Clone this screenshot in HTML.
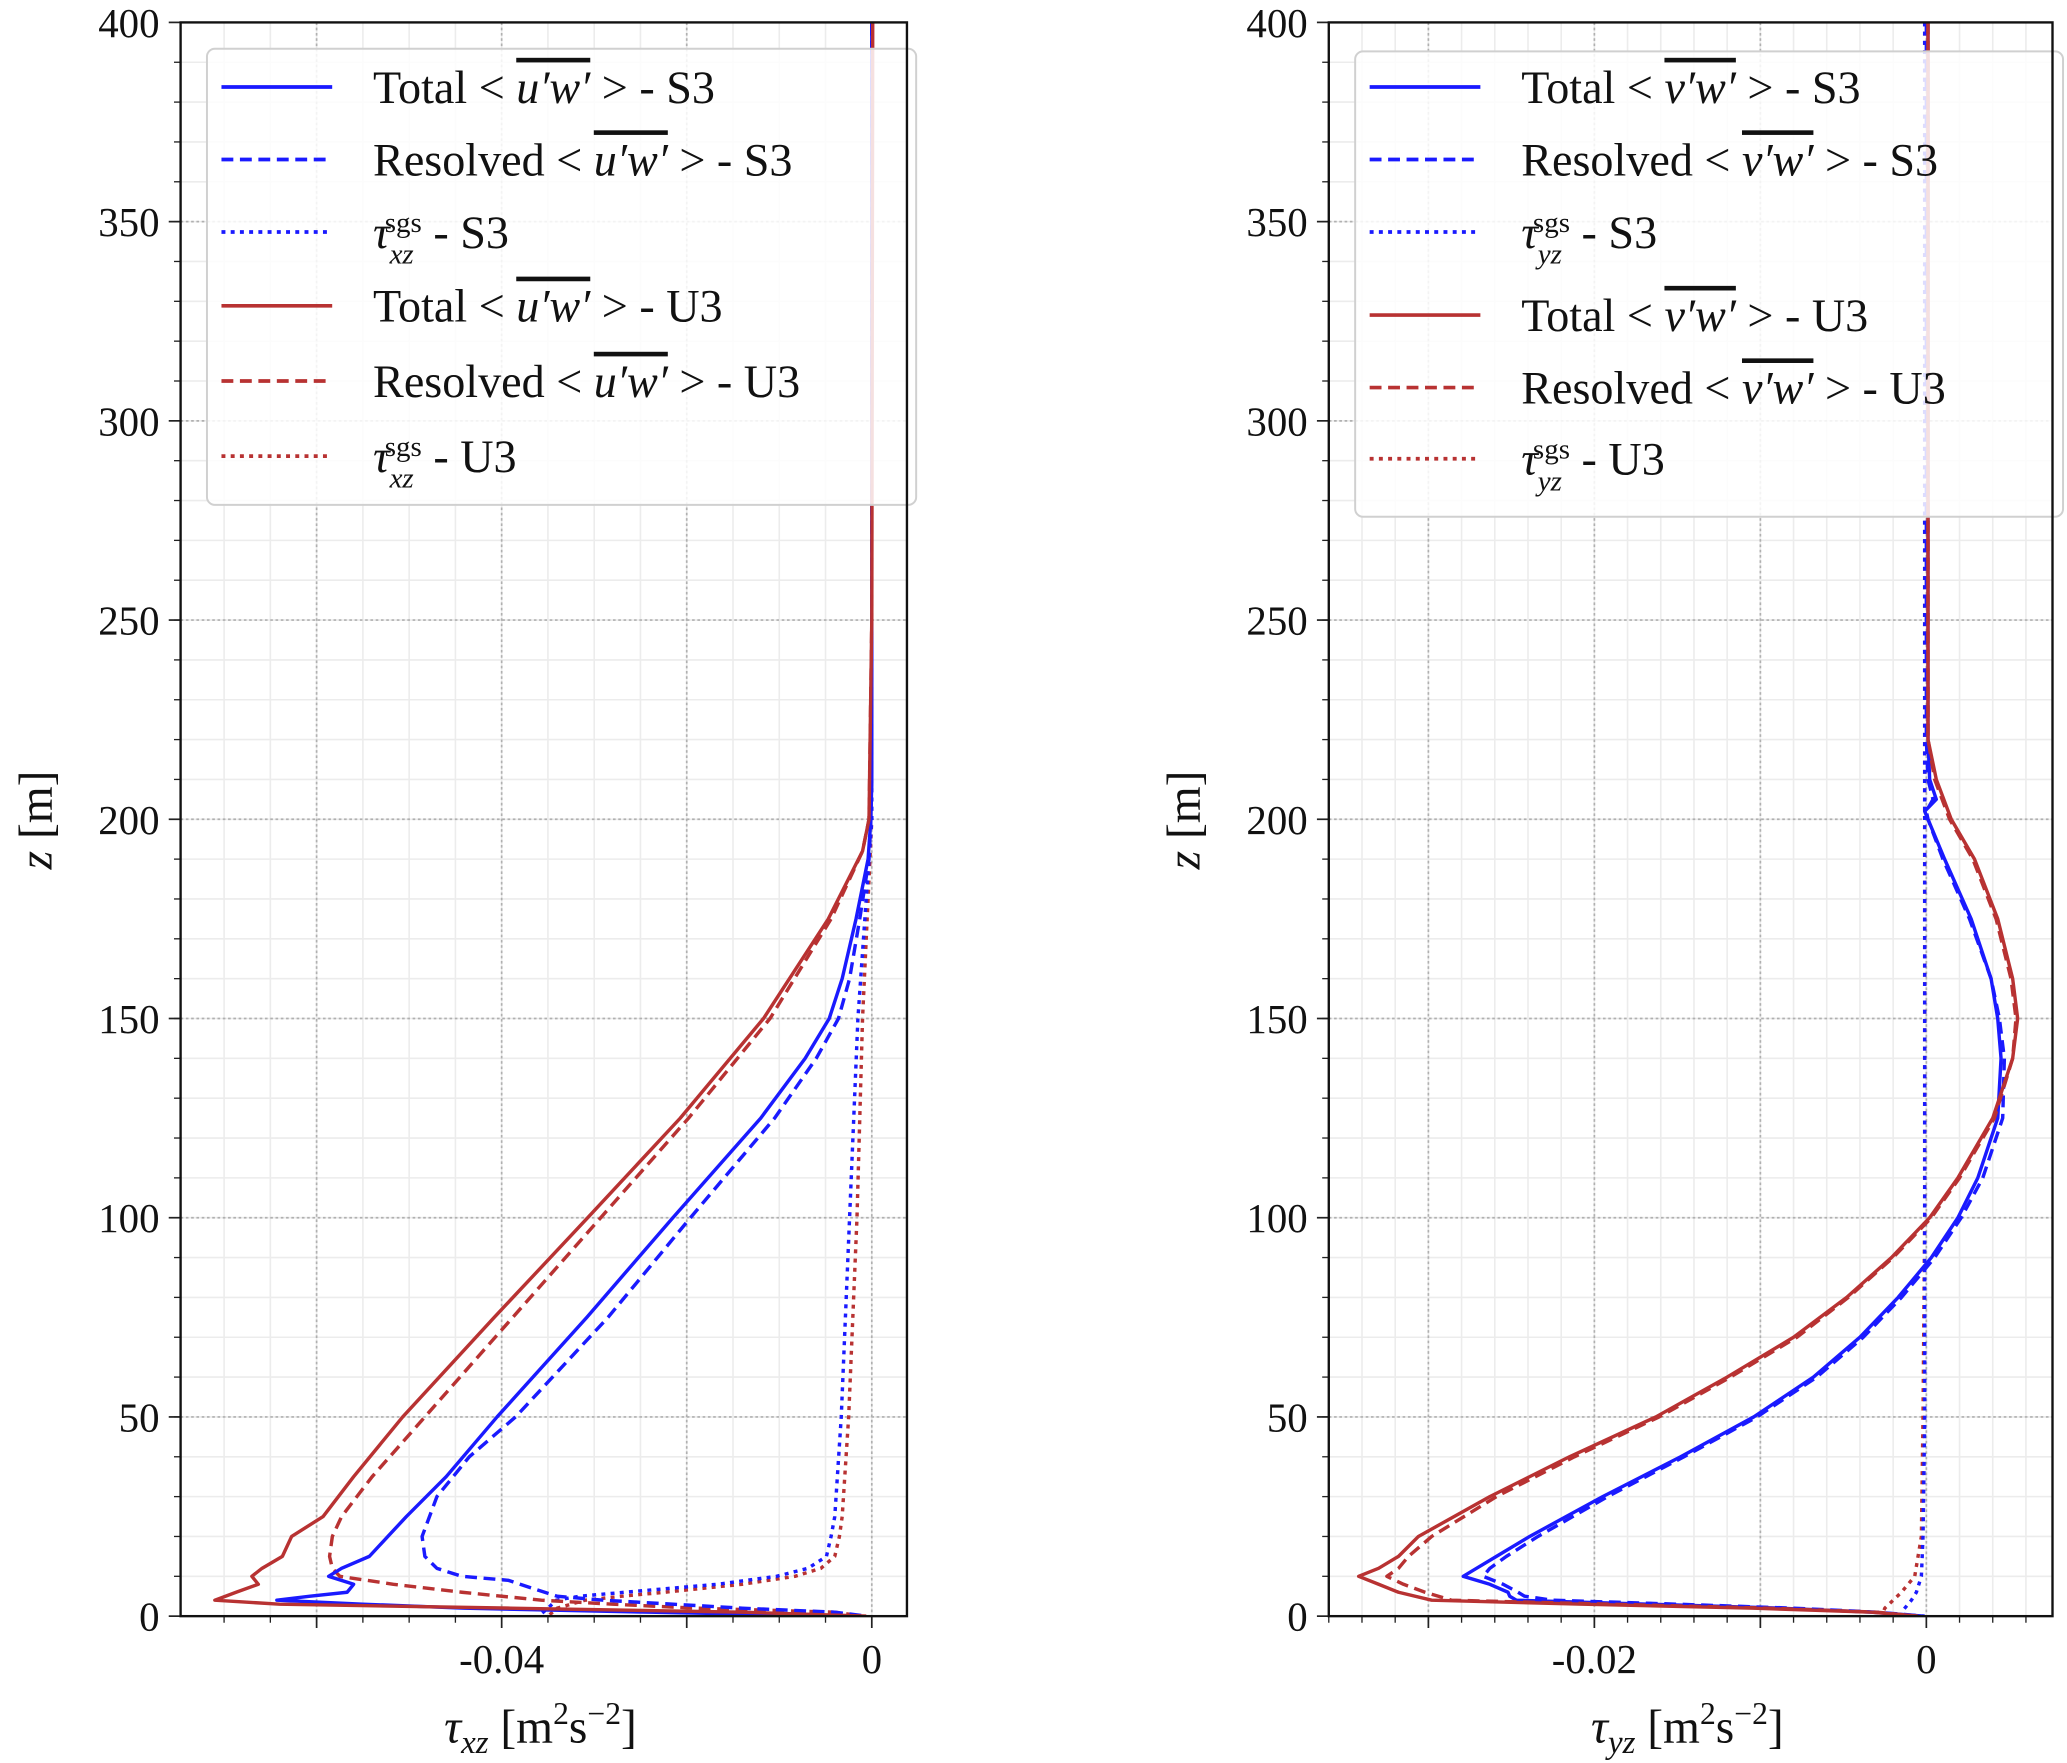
<!DOCTYPE html>
<html><head><meta charset="utf-8"><style>
html,body{margin:0;padding:0;background:#fff}
svg{display:block}
text{font-family:"Liberation Serif",serif;fill:#111}
</style></head><body>
<svg id="fig" width="2067" height="1763" viewBox="0 0 1568 1337.4" preserveAspectRatio="none" xmlns="http://www.w3.org/2000/svg"></svg>
<script>
// ---------- LEFT PANEL DATA (x in 1e-3 m2 s-2) ----------
const zL_s3Total = [400,210,200,190,175,160,150,140,125,100,75,50,35,25,20,15,12,10,8,6,5,4,3,2,1,0];
const xL_s3Total = [0,0,-0.1,-0.4,-1.7,-3.2,-4.6,-7.2,-12,-21.5,-30.8,-40.5,-46,-50.3,-52.3,-54.3,-57.3,-58.7,-56,-56.7,-60.7,-64.3,-55,-44,-24,-2];
const zL_s3Res = [400,210,200,190,175,160,150,140,125,100,75,50,40,30,20,15,12,10,9,7,5,4,2,1,0];
const xL_s3Res = [0,0,-0.1,-0.3,-1.3,-2.4,-3.6,-6,-10.5,-19.6,-28.5,-38.5,-43.5,-47,-48.6,-48.3,-47,-44.3,-39.3,-36.7,-34,-29,-14,-4,-0.5];
const zL_sgs = [400,200,150,100,50,25,20,15,12,10,8,6,5,4,2,0];
const xL_s3Sgs = [0,0,-1.5,-2.4,-3.3,-4.0,-4.4,-4.9,-6.9,-10.3,-16.7,-26.7,-31.6,-34.1,-35,-36];
const xL_u3Sgs = [0,0,-1,-1.6,-2.5,-3.2,-3.5,-4.0,-5.5,-8.3,-14,-22.4,-27,-31,-34,-35];
const zL_u3 = [400,250,200,192,175,150,125,100,75,50,35,25,20,15,12,10,8,6,4,3,2,1,0];
const xL_u3Total = [0.1,0,-0.3,-1,-4.7,-11.7,-20.7,-30.7,-40.8,-50.7,-56,-59.3,-62.7,-63.7,-65.9,-67,-66.3,-68.7,-71,-64,-39,-14,-0.6];
const xL_u3Res = [0,0,-0.3,-1,-4.4,-11,-19.8,-29.3,-38.8,-48.3,-54,-57.3,-58.3,-58.6,-58.3,-57.5,-51.7,-44.3,-35.7,-28,-19,-4,-1];
const xTicksL = [-0.04, 0];
const xTickLabelsL = ["-0.04", "0"];
// ---------- RIGHT PANEL DATA ----------
const zR_s3 = [400,220,210,205,202,200,190,175,160,150,140,125,110,100,90,80,70,60,50,40,30,20,15,12,10,8,6,5,4,3,2,1,0];
const xR_s3Total = [0.1,0.1,0.2,0.6,-0.1,0.1,1.1,2.7,3.9,4.3,4.5,4.3,3.1,1.9,0.3,-1.7,-4.0,-6.8,-10.4,-14.8,-19.5,-23.9,-25.9,-27.1,-27.9,-26.3,-25.2,-25.1,-24.7,-16.7,-8.8,-3.3,-0.1];
const xR_s3Res = [0,0,0.1,0.4,0,0.1,1.0,2.6,3.9,4.4,4.7,4.6,3.4,2.1,0.5,-1.5,-3.8,-6.6,-10.2,-14.6,-19.2,-23.4,-25.3,-26.3,-26.7,-25.5,-24.6,-24.2,-22.5,-15,-8,-3,-0.1];
const zR_u3 = [400,220,210,200,190,175,160,150,140,125,110,100,90,80,70,60,50,40,30,20,15,12,10,8,6,4,3,2,1,0];
const xR_u3Total = [0.1,0.1,0.6,1.5,2.9,4.3,5.2,5.5,5.2,4.0,1.9,0.2,-2.1,-4.8,-8.0,-12.0,-16.3,-21.5,-26.3,-30.6,-31.8,-33.0,-34.2,-33.0,-31.8,-29.8,-20.7,-10.4,-3.3,-0.5];
const xR_u3Res = [0.1,0.1,0.5,1.4,2.8,4.2,5.1,5.4,5.2,4.1,2.0,0.3,-2.0,-4.7,-7.8,-11.8,-16.1,-21.2,-25.9,-29.8,-31.2,-31.8,-32.5,-31.5,-30.2,-28.6,-19,-9.5,-3,-0.5];
const zR_sgs = [400,100,50,20,10,6,4,2,1,0];
const xR_s3Sgs = [-0.1,-0.1,-0.1,-0.2,-0.3,-0.6,-0.9,-1.3,-1.5,-1.5];
const xR_u3Sgs = [-0.1,-0.1,-0.2,-0.3,-0.7,-1.5,-2.0,-2.5,-2.6,-2.6];
const xTicksR = [-0.02, 0];
const xTickLabelsR = ["-0.02", "0"];
const yTicks = [0,50,100,150,200,250,300,350,400];

const NS = "http://www.w3.org/2000/svg";
const svg = document.getElementById('fig');
const BLUE = "#1a1aff", RED = "#b83232";
function el(tag, attrs, parent) {
  const e = document.createElementNS(NS, tag);
  for (const k in attrs) e.setAttribute(k, attrs[k]);
  (parent || svg).appendChild(e);
  return e;
}

function panel(cfg) {
  const g = el('g', {});
  
  
  const X = v => cfg.x0 + (v - cfg.xmin) / (cfg.xmax - cfg.xmin) * (cfg.x1 - cfg.x0);
  const Y = v => cfg.y1 - v / 400 * (cfg.y1 - cfg.y0);
  for (let v = Math.ceil(cfg.xmin / cfg.minor) * cfg.minor; v <= cfg.xmax; v += cfg.minor) {
    const l = el('line', {x1: X(v), x2: X(v), y1: cfg.y0, y2: cfg.y1, stroke: "#ececec", "stroke-width": 1.2}, g);
    
    
    const t = el('line', {x1: X(v), x2: X(v), y1: cfg.y1, y2: cfg.y1 + 5, stroke: "#222", "stroke-width": 1}, g);
    
    
  }
  for (let v = 10; v < 400; v += 10) {
    const l = el('line', {x1: cfg.x0, x2: cfg.x1, y1: Y(v), y2: Y(v), stroke: "#ececec", "stroke-width": 1.2}, g);
    
    
    const t = el('line', {x1: cfg.x0 - 5, x2: cfg.x0, y1: Y(v), y2: Y(v), stroke: "#222", "stroke-width": 1}, g);
    
    
  }
  for (let v = Math.ceil(cfg.xmin / cfg.major - 1e-9) * cfg.major; v <= cfg.xmax + 1e-9; v += cfg.major) {
    const l = el('line', {x1: X(v), x2: X(v), y1: cfg.y0, y2: cfg.y1, stroke: "#b0b0b0", "stroke-width": 1.3, "stroke-dasharray": "2,2"}, g);
    
    
    const t = el('line', {x1: X(v), x2: X(v), y1: cfg.y1, y2: cfg.y1 + 9, stroke: "#222", "stroke-width": 1.3}, g);
    
    
  }
  yTicks.forEach(v => {
    const l = el('line', {x1: cfg.x0, x2: cfg.x1, y1: Y(v), y2: Y(v), stroke: "#b0b0b0", "stroke-width": 1.3, "stroke-dasharray": "2,2"}, g);
    
    
    const t = el('line', {x1: cfg.x0 - 9, x2: cfg.x0, y1: Y(v), y2: Y(v), stroke: "#222", "stroke-width": 1.3}, g);
    
    
    const tx = el('text', {x: cfg.x0 - 16, y: Y(v) + 11, "text-anchor": "end", "font-size": 31}, g);
    
    
    tx.textContent = v;
  });
  cfg.xt.forEach((v, i) => {
    const tx = el('text', {x: X(v * 1000), y: cfg.y1 + 43, "text-anchor": "middle", "font-size": 31}, g);
    
    
    tx.textContent = cfg.xtl[i];
  });
  const clipId = cfg.name + '-clip';
  const cp = el('clipPath', {id: clipId}, g);
  el('rect', {x: cfg.x0, y: cfg.y0, width: cfg.x1 - cfg.x0, height: cfg.y1 - cfg.y0}, cp);
  cfg.series.forEach(s => {
    let d = "";
    s.z.forEach((z, i) => { d += (i ? "L" : "M") + X(s.x[i]).toFixed(2) + "," + Y(z).toFixed(2); });
    const attrs = {d: d, fill: "none", stroke: s.c, "stroke-width": 2.6, "clip-path": "url(#" + clipId + ")", "stroke-linejoin": "round"};
    if (s.dash) attrs["stroke-dasharray"] = s.dash;
    const p = el('path', attrs, g);
    
    
  });
  const L = cfg.legend;
  const lg = el('g', {}, g);
  
  
  el('rect', {x: L.x, y: L.y, width: L.w, height: L.h, rx: 6, fill: "#fff", "fill-opacity": 0.85, stroke: "#d0d0d0", "stroke-width": 1.5}, lg);
  L.rows.forEach((r, i) => {
    const yy = L.ys[i];
    const la = {x1: L.x + 11, x2: L.x + 95, y1: yy, y2: yy, stroke: r.c, "stroke-width": 2.8};
    if (r.dash) la["stroke-dasharray"] = r.dash;
    const ln = el('line', la, lg);
    
    
    const t = el('text', {x: L.x + 126, y: yy + 12, "font-size": 35}, lg);
    
    
    if (r.kind === 'sgs') {
      t.innerHTML = '<tspan font-style="italic">τ</tspan><tspan font-size="22" font-style="italic" dy="12">' + cfg.sub + '</tspan><tspan font-size="22" dx="-22" dy="-24">sgs</tspan><tspan dy="12"> - ' + r.run + '</tspan>';
    } else {
      t.innerHTML = r.kind + ' &lt; <tspan font-style="italic" text-decoration="overline">' + cfg.pr + '′w′</tspan> &gt; - ' + r.run;
    }
  });
  const fr = el('rect', {x: cfg.x0, y: cfg.y0, width: cfg.x1 - cfg.x0, height: cfg.y1 - cfg.y0, fill: "none", stroke: "#111", "stroke-width": 1.8}, g);
  
  
  const xt = el('text', {x: cfg.xlabX, y: 1322, "text-anchor": "middle", "font-size": 36}, g);
  
  
  xt.innerHTML = '<tspan font-style="italic">τ</tspan><tspan font-style="italic" font-size="25" dy="8">' + cfg.sub + '</tspan><tspan dy="-8"> [m</tspan><tspan font-size="24" dy="-14">2</tspan><tspan dy="14">s</tspan><tspan font-size="24" dy="-14">−2</tspan><tspan dy="14">]</tspan>';
  const yt = el('text', {x: 0, y: 0, "text-anchor": "middle", "font-size": 36, transform: "translate(" + (cfg.x0 - 98) + "," + 622 + ") rotate(-90)"}, g);
  
  
  yt.innerHTML = '<tspan font-style="italic">z</tspan> [m]';
}

const rowsDef = [
  {kind: 'Total', run: 'S3', c: BLUE},
  {kind: 'Resolved', run: 'S3', c: BLUE, dash: "9,5"},
  {kind: 'sgs', run: 'S3', c: BLUE, dash: "3,4"},
  {kind: 'Total', run: 'U3', c: RED},
  {kind: 'Resolved', run: 'U3', c: RED, dash: "9,5"},
  {kind: 'sgs', run: 'U3', c: RED, dash: "3,4"}
];

panel({
  name: 'left-panel', x0: 137, x1: 688, y0: 17, y1: 1226, xmin: -74.7, xmax: 3.8, minor: 5, major: 20,
  xt: xTicksL, xtl: xTickLabelsL, sub: 'xz', pr: 'u', xlabX: 410,
  series: [
    {name: 'u3-sgs-line', z: zL_sgs, x: xL_u3Sgs, c: RED, dash: "3,4"},
    {name: 's3-sgs-line', z: zL_sgs, x: xL_s3Sgs, c: BLUE, dash: "3,4"},
    {name: 'u3-resolved-line', z: zL_u3, x: xL_u3Res, c: RED, dash: "9,5"},
    {name: 's3-resolved-line', z: zL_s3Res, x: xL_s3Res, c: BLUE, dash: "9,5"},
    {name: 's3-total-line', z: zL_s3Total, x: xL_s3Total, c: BLUE},
    {name: 'u3-total-line', z: zL_u3, x: xL_u3Total, c: RED}
  ],
  legend: {x: 157, y: 37, w: 538, h: 346, ys: [66, 121, 176, 232, 289, 346], rows: rowsDef}
});

panel({
  name: 'right-panel', x0: 1008, x1: 1557, y0: 17, y1: 1226, xmin: -36, xmax: 7.6, minor: 2, major: 10,
  xt: xTicksR, xtl: xTickLabelsR, sub: 'yz', pr: 'v', xlabX: 1280,
  series: [
    {name: 'u3-sgs-line', z: zR_sgs, x: xR_u3Sgs, c: RED, dash: "3,4"},
    {name: 's3-sgs-line', z: zR_sgs, x: xR_s3Sgs, c: BLUE, dash: "3,4"},
    {name: 's3-resolved-line', z: zR_s3, x: xR_s3Res, c: BLUE, dash: "9,5"},
    {name: 's3-total-line', z: zR_s3, x: xR_s3Total, c: BLUE},
    {name: 'u3-resolved-line', z: zR_u3, x: xR_u3Res, c: RED, dash: "9,5"},
    {name: 'u3-total-line', z: zR_u3, x: xR_u3Total, c: RED}
  ],
  legend: {x: 1028, y: 39, w: 537, h: 353, ys: [66, 121, 176, 239, 294, 348], rows: rowsDef}
});
</script>
</body></html>
